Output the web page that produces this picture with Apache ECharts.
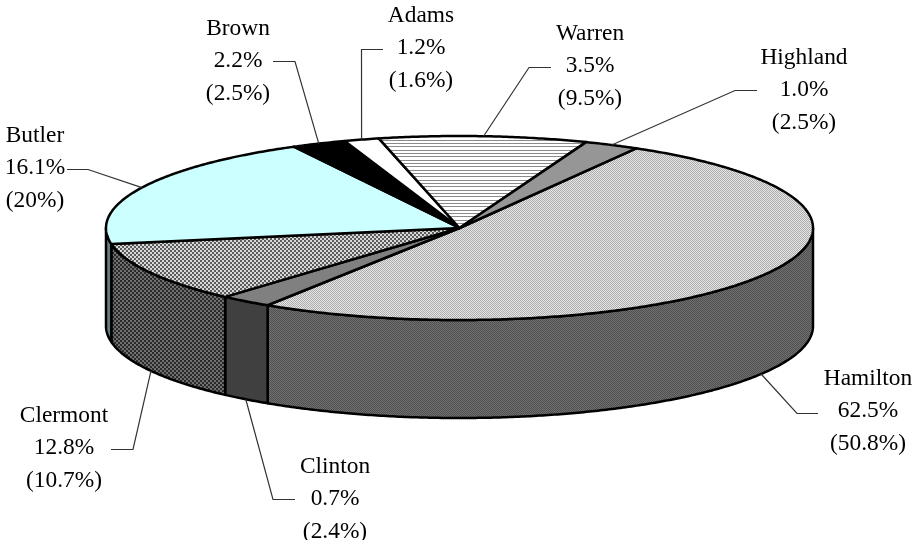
<!DOCTYPE html>
<html>
<head>
<meta charset="utf-8">
<style>html,body{margin:0;padding:0;background:#fff}#chart{width:912px;height:540px}</style>
<script src="https://cdn.jsdelivr.net/npm/echarts@6/dist/echarts.min.js"></script>
</head>
<body>
<div id="chart"></div>
<script>
// Data, clockwise from the Hamilton slice's starting edge
const counties = ['Hamilton','Clinton','Clermont','Butler','Brown','Adams','Warren','Highland'];
const firstShare = ['62.5','0.7','12.8','16.1','2.2','1.2','3.5','1.0'];
const secondShare = ['50.8','2.4','10.7','20','2.5','1.6','9.5','2.5'];
const sliceValues = [50.8,2.4,10.7,20,2.5,1.6,9.5,2.5];

// Layout (not data)
const CX = 459.5, CY = 228, RX = 353.5, RY = 92, DEPTH = 98, START_DEG = 60;
const FONT = '23.4px "Liberation Serif"', LINE_H = 32.5;
const labelLayout = {
  Hamilton:{x:868,y:411,tail:[[797,413.5],[818,413.5]]},
  Clinton:{x:335,y:499,tail:[[273,499.5],[295,499.5]]},
  Clermont:{x:64,y:448,tail:[[133,449.5],[111,449.5]]},
  Butler:{x:35,y:168,tail:[[88,169.5],[67,169.5]]},
  Brown:{x:238,y:61,tail:[[295,61.5],[273,61.5]]},
  Adams:{x:421,y:48,tail:[[361.5,49.5],[383,49.5]]},
  Warren:{x:590,y:66,tail:[[529,67.5],[551,67.5]]},
  Highland:{x:804,y:90,tail:[[735,90.5],[757,90.5]]}
};

function tile(w,h,paint){
  const c=document.createElement('canvas');c.width=w;c.height=h;
  paint(c.getContext('2d'));
  return {image:c,repeat:'repeat'};
}
function checker(a,b,s){
  return tile(2*s,2*s,g=>{g.fillStyle=a;g.fillRect(0,0,2*s,2*s);g.fillStyle=b;g.fillRect(0,0,s,s);g.fillRect(s,s,s,s);});
}
function diag(a,b){
  return tile(4,4,g=>{g.fillStyle=a;g.fillRect(0,0,4,4);g.fillStyle=b;for(let i=0;i<4;i++){g.fillRect(i,i,1,1);g.fillRect((i+2)%4,i,1,1);}});
}
const stripes=tile(1,10,g=>{g.fillStyle='#fff';g.fillRect(0,0,1,10);g.fillStyle='#8a8a8a';[0,3,6].forEach(y=>g.fillRect(0,y,1,1));});
const topFill={
  Hamilton:diag('#e6e6e6','#acacac'),Clinton:'#808080',Clermont:checker('#d8d8d8','#5c5c5c',2),
  Butler:'#ccffff',Brown:'#000000',Adams:'#ffffff',Warren:stripes,Highland:'#969696'
};
const sideFill={
  Hamilton:diag('#707070','#505050'),Clinton:'#404040',Clermont:checker('#707070','#2a2a2a',2),
  Butler:'#668080',Brown:'#000000',Adams:'#808080',Warren:'#808080',Highland:'#4b4b4b'
};

const total=sliceValues.reduce((a,b)=>a+b,0);
const edges=[];
sliceValues.reduce((acc,v,i)=>{const next=acc-v/total*360;edges.push([acc,next]);return next;},START_DEG);
const pt=(deg,dy)=>[CX+RX*Math.cos(deg*Math.PI/180),CY-RY*Math.sin(deg*Math.PI/180)+(dy||0)];
function arc(hi,lo,dy){const p=[];const n=Math.max(2,Math.ceil((hi-lo)*2));for(let k=0;k<=n;k++)p.push(pt(hi-(hi-lo)*k/n,dy));return p;}
const edgeStyle={stroke:'#000',lineWidth:2.5,lineJoin:'round'};

function renderSide(params){
  const [a0,a1]=edges[params.dataIndex], name=counties[params.dataIndex], kids=[];
  [0,360,-360].forEach(off=>{
    const lo=Math.max(a1+off,180), hi=Math.min(a0+off,360);
    if(lo<hi){
      const pts=arc(hi,lo,0).concat(arc(hi,lo,DEPTH).reverse());
      kids.push({type:'polygon',shape:{points:pts},style:Object.assign({fill:sideFill[name]},edgeStyle)});
    }
  });
  return {type:'group',children:kids};
}
function renderTop(params){
  const [a0,a1]=edges[params.dataIndex], name=counties[params.dataIndex];
  return {type:'polygon',shape:{points:[[CX,CY]].concat(arc(a0,a1,0))},style:Object.assign({fill:topFill[name]},edgeStyle)};
}
function renderLabel(params){
  const i=params.dataIndex,[a0,a1]=edges[i],mid=(a0+a1)/2,name=counties[i],L=labelLayout[name];
  const front=Math.sin(mid*Math.PI/180)<0;
  const anchor=pt(mid,front?DEPTH:0);
  return {type:'group',children:[
    {type:'polyline',shape:{points:[anchor].concat(L.tail)},style:{stroke:'#333',lineWidth:1.2,fill:'none'}},
    {type:'text',style:{text:name+'\n'+firstShare[i]+'%\n('+secondShare[i]+'%)',x:L.x,y:L.y,align:'center',verticalAlign:'middle',font:FONT,lineHeight:LINE_H,fill:'#000'}}
  ]};
}
const seriesData=counties.map((n,i)=>({name:n,value:sliceValues[i]}));
const chart=echarts.init(document.getElementById('chart'),null,{renderer:'canvas'});
chart.setOption({
  backgroundColor:'#fff',animation:false,
  series:[
    {type:'custom',name:'side',coordinateSystem:'none',z:1,silent:true,data:seriesData,renderItem:renderSide},
    {type:'custom',name:'top',coordinateSystem:'none',z:2,silent:true,data:seriesData,renderItem:renderTop},
    {type:'custom',name:'labels',coordinateSystem:'none',z:3,silent:true,data:seriesData,renderItem:renderLabel}
  ]
});
</script>
</body>
</html>
